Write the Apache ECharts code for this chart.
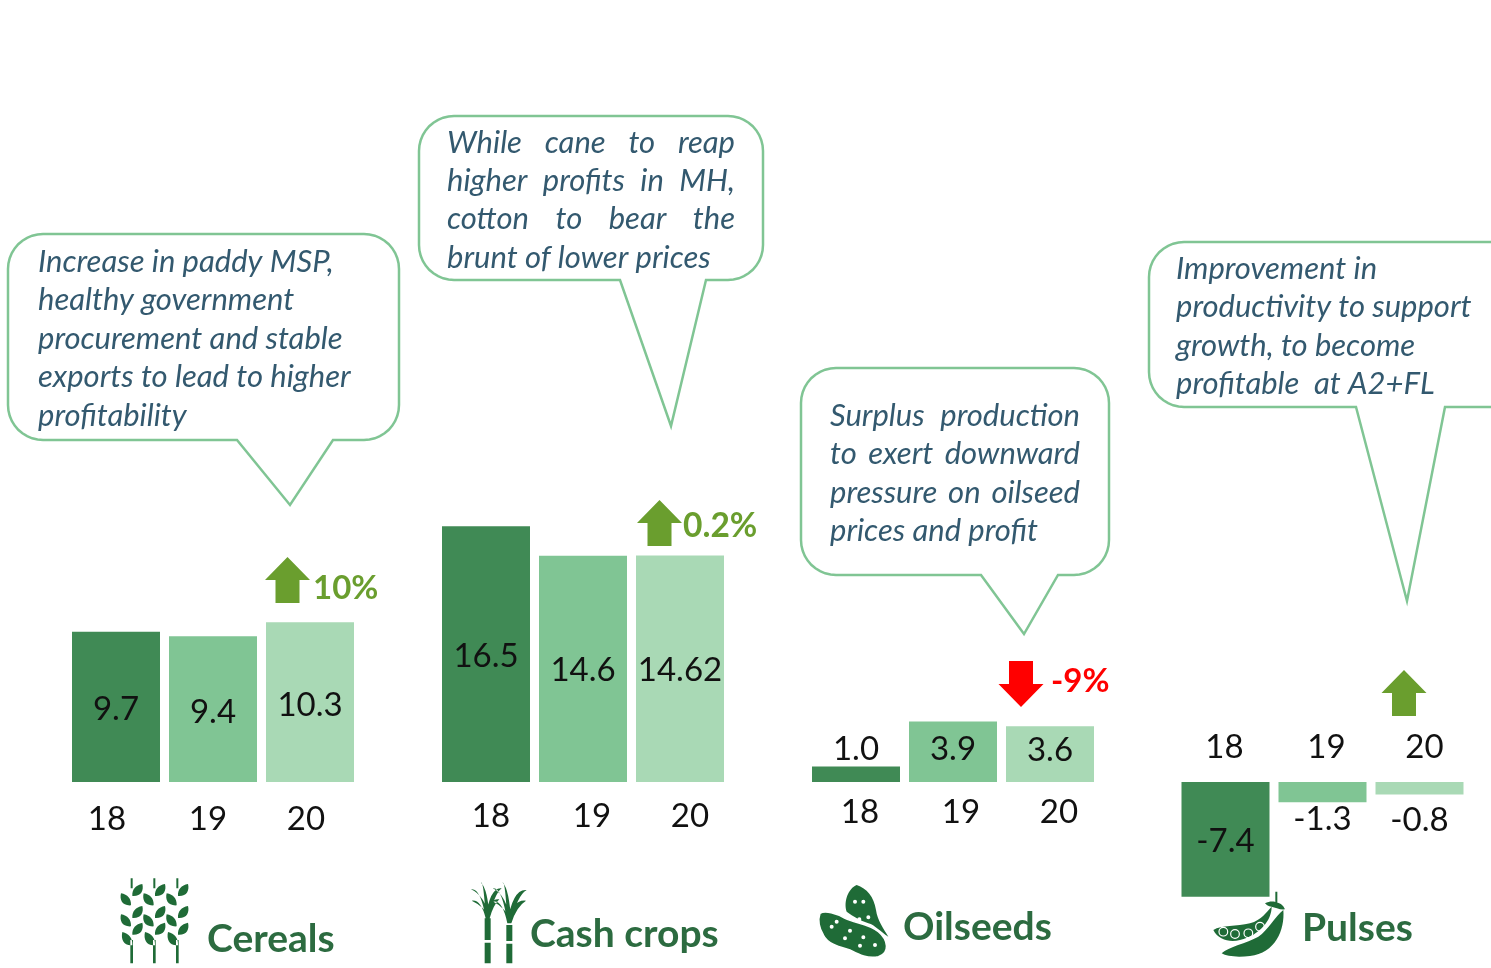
<!DOCTYPE html>
<html lang="en">
<head>
<meta charset="UTF-8">
<title>Crop profitability</title>
<script src="https://cdn.jsdelivr.net/npm/echarts@6/dist/echarts.min.js"></script>
<style>
    html, body { margin: 0; padding: 0; background: #fff; }
    #main { width: 1491px; height: 968px; overflow: hidden; }
</style>
</head>
<body>
<div id="main"></div>
<script>
// data
var years = ['18', '19', '20'];
var cereals = [9.7, 9.4, 10.3];
var cashCrops = [16.5, 14.6, 14.62];
var oilseeds = [1.0, 3.9, 3.6];
var pulses = [-7.4, -1.3, -0.8];
var panelNames = ['Cereals', 'Cash crops', 'Oilseeds', 'Pulses'];
var changeLabels = ['10%', '0.2%', '-9%'];
var cerealNote = ['Increase in paddy MSP,', 'healthy government', 'procurement and stable', 'exports to lead to higher', 'profitability'];
var cashNote = ['While cane to reap', 'higher profits in MH,', 'cotton to bear the', 'brunt of lower prices'];
var oilNote = ['Surplus production', 'to exert downward', 'pressure on oilseed', 'prices and profit'];
var pulseNote = ['Improvement in', 'productivity to support', 'growth, to become', 'profitable  at A2+FL'];

var FONT = 'Lato, Carlito, sans-serif';
var barColors = ['#408a55', '#80c594', '#a9d9b5'];
var lineGreen = '#80c594';
var noteColor = '#33596f';
var arrowGreen = '#6a9e2e';
var iconGreen = '#1f6b37';
var nameGreen = '#2c6b40';
var VALUE_SIZE = 33;

// one shared scale for all panels: 15.5px per unit, zero at y=782
var Y_MIN = -8, Y_MAX = 18, GRID_TOP = 503, GRID_H = 403;
var ZERO_OFFSET = Y_MIN * GRID_H / (Y_MAX - Y_MIN);

var panels = [
    {values: cereals, left: 67.5, width: 291, labelDy: [3, 3, 3], tickShift: [-9, -5, -4], margin: 21, inside: false},
    {values: cashCrops, left: 437.5, width: 291, labelDy: [2, 2, 2], tickShift: [5, 9, 10], margin: 18, inside: false},
    {values: oilseeds, left: 807.5, width: 291, labelDy: [-25, -2, -4], tickShift: [4, 8, 9], margin: 14, inside: false},
    {values: pulses, left: 1177, width: 291, labelDy: [2, 27, 32], tickShift: [-1, 4, 5], margin: 18, inside: true}
];

function fmt(v) {
    return Number.isInteger(v) ? v.toFixed(1) : String(v);
}

// rich style shifts a tick label sideways, the labels sit off centre in the picture
function tickRich(shift) {
    var rich = {};
    shift.forEach(function (s, i) {
        rich['t' + i] = {
            fontFamily: FONT, fontSize: VALUE_SIZE, color: '#111',
            padding: s > 0 ? [0, 0, 0, s * 2] : [0, -s * 2, 0, 0]
        };
    });
    return rich;
}

var grids = [], xAxes = [], yAxes = [], series = [];
panels.forEach(function (p, k) {
    grids.push({left: p.left, width: p.width, top: GRID_TOP, height: GRID_H});
    xAxes.push({
        type: 'category', gridIndex: k, data: years, position: 'bottom',
        // lift the axis from the grid bottom up to the zero line
        offset: ZERO_OFFSET,
        axisLine: {show: false, onZero: false}, axisTick: {show: false},
        axisLabel: {
            interval: 0, inside: p.inside, margin: p.margin,
            formatter: function (v, i) { return '{t' + i + '|' + v + '}'; },
            rich: tickRich(p.tickShift)
        }
    });
    yAxes.push({type: 'value', gridIndex: k, min: Y_MIN, max: Y_MAX, show: false, splitLine: {show: false}});
    series.push({
        type: 'bar', xAxisIndex: k, yAxisIndex: k, barWidth: 88, silent: true,
        data: p.values.map(function (v, i) {
            return {
                value: v,
                itemStyle: {color: barColors[i]},
                label: {
                    show: true, position: 'inside', offset: [0, p.labelDy[i]],
                    formatter: fmt(v), fontFamily: FONT, fontSize: VALUE_SIZE, color: '#111'
                }
            };
        })
    });
});

// callout outline: rounded box with a pointed tail on the bottom edge
function calloutPoints(x0, y0, x1, y1, r, tail) {
    var pts = [];
    function arc(cx, cy, a0) {
        for (var i = 0; i <= 10; i++) {
            var a = a0 + i / 10 * Math.PI / 2;
            pts.push([cx + r * Math.cos(a), cy + r * Math.sin(a)]);
        }
    }
    arc(x0 + r, y0 + r, Math.PI);
    arc(x1 - r, y0 + r, -Math.PI / 2);
    arc(x1 - r, y1 - r, 0);
    tail.slice().reverse().forEach(function (t) { pts.push(t); });
    arc(x0 + r, y1 - r, Math.PI / 2);
    return pts;
}

var measure = document.createElement('canvas').getContext('2d');
var NOTE_SIZE = 31;
measure.font = 'italic ' + NOTE_SIZE + 'px ' + FONT;

function noteText(text, x, y) {
    return {
        type: 'text', silent: true,
        style: {text: text, x: x, y: y + 1, fontFamily: FONT, fontStyle: 'italic', fontSize: NOTE_SIZE, fill: noteColor, verticalAlign: 'middle'}
    };
}

// width = stretch the word gaps so the line fills that width (justified text in the box)
function noteLine(text, x, y, width) {
    if (!width) return [noteText(text, x, y)];
    var words = text.split(' ');
    var used = words.reduce(function (s, w) { return s + measure.measureText(w).width; }, 0);
    var gap = (width - used) / (words.length - 1);
    var out = [], cx = x;
    words.forEach(function (w) {
        out.push(noteText(w, cx, y));
        cx += measure.measureText(w).width + gap;
    });
    return out;
}

function noteBlock(lines, x, ys, widths) {
    var out = [];
    lines.forEach(function (t, i) {
        out = out.concat(noteLine(t, x, ys[i], widths[i]));
    });
    return out;
}

function callout(x0, y0, x1, y1, tail) {
    return {
        type: 'polygon', silent: true,
        shape: {points: calloutPoints(x0, y0, x1, y1, 35, tail)},
        style: {fill: '#fff', stroke: lineGreen, lineWidth: 2.5}
    };
}

function upArrow(cx, top, fill) {
    return {
        type: 'polygon', silent: true,
        shape: {points: [[cx, top], [cx + 22.5, top + 23], [cx + 12, top + 23], [cx + 12, top + 46], [cx - 12, top + 46], [cx - 12, top + 23], [cx - 22.5, top + 23]]},
        style: {fill: fill}
    };
}

function downArrow(cx, top, fill) {
    return {
        type: 'polygon', silent: true,
        shape: {points: [[cx, top + 46], [cx + 22.5, top + 23], [cx + 12, top + 23], [cx + 12, top], [cx - 12, top], [cx - 12, top + 23], [cx - 22.5, top + 23]]},
        style: {fill: fill}
    };
}

function boldText(text, x, y, size, fill) {
    return {
        type: 'text', silent: true,
        style: {text: text, x: x, y: y, fontFamily: FONT, fontWeight: 'bold', fontSize: size, fill: fill, verticalAlign: 'middle'}
    };
}

var graphics = [
    callout(8, 234, 399, 440, [[237, 440], [290, 505], [333, 440]]),
    callout(419, 116, 763, 280, [[620, 280], [671, 426], [706, 280]]),
    callout(801, 368, 1109, 575, [[981, 575], [1024, 634], [1058, 575]]),
    callout(1149, 242, 1530, 407, [[1356, 407], [1407, 601], [1445, 407]]),
    upArrow(287.5, 557, arrowGreen),
    upArrow(659.5, 500, arrowGreen),
    downArrow(1021, 661, '#ff0000'),
    upArrow(1404, 670, arrowGreen),
    boldText(changeLabels[0], 313, 588, 33, arrowGreen),
    boldText(changeLabels[1], 683, 526, 33.5, arrowGreen),
    boldText(changeLabels[2], 1051, 681, 33, '#ff0000'),
    boldText(panelNames[0], 207, 939, 39, nameGreen),
    boldText(panelNames[1], 530, 934, 39, nameGreen),
    boldText(panelNames[2], 903, 927, 39, nameGreen),
    boldText(panelNames[3], 1302, 928, 39, nameGreen)
].concat(
    noteBlock(cerealNote, 38, [261, 299, 338, 376, 415], []),
    noteBlock(cashNote, 447, [142, 180, 218, 257], [288, 288, 288]),
    noteBlock(oilNote, 830, [415, 453, 492, 530], [250, 250, 250]),
    noteBlock(pulseNote, 1176, [268, 306, 345, 383], [])
);

// icons, coordinates are 3x crop space. "M0 0M w h" pins the box so layout cover keeps the scale
function grain(cx, y, d, s) {
    s = s || 1;
    return 'M' + (cx + 2 * d) + ' ' + (y + 36 * s) +
        'C' + (cx + 1 * d) + ' ' + (y + 16 * s) + ' ' + (cx + 12 * d) + ' ' + (y + 4 * s) + ' ' + (cx + 32 * d) + ' ' + y +
        'C' + (cx + 37 * d) + ' ' + (y + 20 * s) + ' ' + (cx + 28 * d) + ' ' + (y + 38 * s) + ' ' + (cx + 2 * d) + ' ' + (y + 36 * s) + 'Z';
}
function bar(x0, y0, x1, y1) {
    return 'M' + x0 + ' ' + y0 + 'L' + x1 + ' ' + y0 + 'L' + x1 + ' ' + y1 + 'L' + x0 + ' ' + y1 + 'Z';
}
function wheat(cx) {
    return bar(cx - 3, 55, cx + 3, 85) + grain(cx, 72, 1) + grain(cx, 100, -1) + grain(cx, 138, 1) +
        grain(cx, 163, -1) + grain(cx, 188, 1) + grain(cx + 4, 216, -1, 1.1) + bar(cx - 4, 240, cx + 4, 310);
}
function leaf(bx, by, tx, ty) {
    var sx = (tx - bx) * 0.3;
    return 'M' + (bx - 6) + ' ' + by + 'Q' + (bx - 6 + sx) + ' ' + (ty - 5) + ' ' + tx + ' ' + ty +
        'Q' + (bx + 6 + sx) + ' ' + (ty + 18) + ' ' + (bx + 6) + ' ' + by + 'Z';
}
function dot(x, y, r) {
    return 'M' + (x - r) + ' ' + y + 'A' + r + ' ' + r + ' 0 1 0 ' + (x + r) + ' ' + y + 'A' + r + ' ' + r + ' 0 1 0 ' + (x - r) + ' ' + y + 'Z';
}
function dots(list, r) {
    return list.map(function (d) { return dot(d[0], d[1], r); }).join('');
}

var wheatPath = wheat(95) + wheat(163) + wheat(232);
var canePath = bar(1154, 175, 1172, 240) + bar(1154, 248, 1172, 310) + bar(1219, 195, 1237, 243) + bar(1219, 251, 1237, 310) +
    leaf(1163, 175, 1113, 88) + leaf(1163, 175, 1143, 68) + leaf(1163, 175, 1115, 122) + leaf(1163, 175, 1205, 85) + leaf(1163, 175, 1198, 118) +
    leaf(1228, 190, 1178, 85) + leaf(1228, 190, 1208, 68) + leaf(1228, 190, 1180, 125) + leaf(1228, 190, 1280, 90) + leaf(1228, 190, 1278, 122);
var nutUpper = 'M170 75C200 85 222 110 228 150C232 180 250 205 265 230C240 215 225 195 205 190C180 180 160 170 140 155C130 125 145 85 170 75Z';
var nutLower = 'M60 160C75 150 110 160 135 175C165 190 205 190 235 215C265 240 270 280 235 290C200 298 170 280 150 270C125 262 85 255 70 225C55 200 55 175 60 160Z';
var nutSpots = dots([[95, 200], [110, 185], [150, 212], [135, 235], [190, 232], [180, 257], [225, 255], [165, 125], [190, 125], [205, 172], [178, 178]], 6);
var podPath = 'M1240 210C1265 195 1310 200 1350 190C1385 180 1400 155 1415 140C1415 180 1380 225 1320 240C1290 248 1255 240 1240 210Z' +
    'M1265 280C1285 260 1340 250 1375 230C1405 210 1425 170 1450 150C1455 210 1425 280 1350 288C1315 292 1280 290 1265 280Z' +
    'M1395 130C1410 122 1425 125 1430 128C1440 128 1450 135 1455 148C1440 150 1425 142 1415 140C1405 140 1400 135 1395 130Z' +
    bar(1426, 95, 1432, 128);
var podPeas = dots([[1270, 215], [1305, 222], [1345, 220], [1380, 200]], 13);

function icon(d, box, style) {
    return {
        type: 'path',
        shape: {pathData: 'M0 0M' + box[2] + ' ' + box[3] + d, x: box[0], y: box[1], width: box[2] / 3, height: box[3] / 3, layout: 'cover'},
        style: style
    };
}

var leftBox = [100, 860, 1350, 324];
var rightBox = [800, 860, 1500, 324];

series.push({
    type: 'custom', coordinateSystem: 'none', data: [0], silent: true, z: 5,
    renderItem: function () {
        return {
            type: 'group',
            children: [
                icon(wheatPath, leftBox, {fill: iconGreen}),
                icon(canePath, leftBox, {fill: iconGreen}),
                icon(nutUpper, rightBox, {fill: iconGreen}),
                icon(nutLower, rightBox, {fill: iconGreen, stroke: '#fff', lineWidth: 1.5}),
                icon(nutSpots, rightBox, {fill: '#fff'}),
                icon(podPath, rightBox, {fill: iconGreen}),
                icon(podPeas, rightBox, {fill: 'none', stroke: '#fff', lineWidth: 1.2})
            ]
        };
    }
});

var myChart = echarts.init(document.getElementById('main'));
myChart.setOption({
    animation: false,
    backgroundColor: '#fff',
    grid: grids,
    xAxis: xAxes,
    yAxis: yAxes,
    graphic: {elements: graphics},
    series: series
});
</script>
</body>
</html>
